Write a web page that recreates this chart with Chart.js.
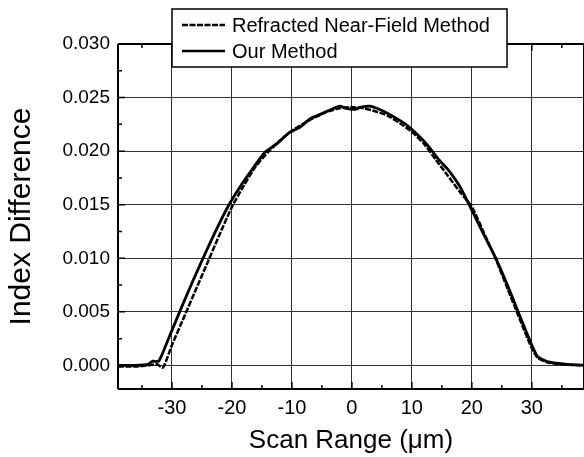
<!DOCTYPE html>
<html>
<head>
<meta charset="utf-8">
<script src="https://cdn.jsdelivr.net/npm/chart.js@4"></script>
<style>
html,body{margin:0;padding:0;background:#fff;overflow:hidden}
#wrap{width:584px;height:457px;position:relative}
</style>
</head>
<body>
<div id="wrap"><canvas id="c" width="584" height="457"></canvas></div>
<script>
// ---- data ----
const rnfX = [-39,-36,-34,-32.5,-31.5,-30,-28,-26,-24,-22,-20,-18,-16,-14,-12,-10,-8,-6,-4,-2,0,2,4,6,8,10,12,14,16,18,20,22,24,26,28,30,31,32.5,35,39];
const rnfY = [-0.0001,-0.0001,0.0000,0.0001,-0.0002,0.0019,0.0045,0.0071,0.0097,0.0123,0.0148,0.0168,0.0186,0.0199,0.0210,0.0219,0.0226,0.0232,0.0237,0.0240,0.0241,0.0240,0.0237,0.0233,0.0226,0.0218,0.0207,0.0192,0.0177,0.0162,0.0148,0.0124,0.0099,0.0071,0.0043,0.0016,0.0007,0.0003,0.0001,0.0000];
const ourX = [-39,-36,-34,-33.2,-32.2,-30.5,-28.5,-26.5,-24.5,-22.5,-20.5,-18.5,-16.5,-14.5,-12.5,-10.5,-8.5,-7,-5,-3,-2,-1,0.5,1.5,3,5,7,9,11,12.7,14.5,16,18,20,22,24,26,28,30,31,33,36,39];
const ourY = [0.0000,0.0000,0.0001,0.0004,0.0004,0.0026,0.0053,0.0079,0.0104,0.0128,0.0150,0.0168,0.0184,0.0199,0.0207,0.0217,0.0223,0.0230,0.0235,0.0240,0.0242,0.0240,0.0239,0.0241,0.0242,0.0238,0.0232,0.0225,0.0215,0.0205,0.0192,0.0183,0.0167,0.0145,0.0122,0.0100,0.0074,0.0046,0.0019,0.0008,0.0003,0.0001,0.0000];
const seriesLabels = ["Refracted Near-Field Method", "Our Method"];
const xTicks = [-30,-20,-10,0,10,20,30];
const xMinorTicks = [-35,-25,-15,-5,5,15,25,35];
const yTicks = [0,0.005,0.010,0.015,0.020,0.025,0.030];
const yMinorTicks = [0.0025,0.0075,0.0125,0.0175,0.0225,0.0275];
const xTitle = "Scan Range (\u03bcm)";
const yTitle = "Index Difference";

const FONT = "'Liberation Sans', Arial, sans-serif";
const toPts = (xs, ys) => xs.map((x, i) => ({x, y: ys[i]}));

const framePlugin = {
  id: 'frame',
  afterDatasetsDraw(chart) {
    const {ctx, chartArea: a, scales: {x, y}} = chart;
    ctx.save();
    ctx.strokeStyle = '#000';
    ctx.lineWidth = 2;
    ctx.beginPath();
    ctx.moveTo(a.left, a.top); ctx.lineTo(a.left, a.bottom);
    ctx.moveTo(a.left, a.bottom); ctx.lineTo(a.right, a.bottom);
    ctx.moveTo(a.left, a.top); ctx.lineTo(a.right, a.top);
    ctx.moveTo(a.right, a.top); ctx.lineTo(a.right, a.bottom);
    ctx.stroke();
    ctx.lineWidth = 1.5;
    ctx.beginPath();
    xMinorTicks.forEach(v => {
      const px = x.getPixelForValue(v);
      ctx.moveTo(px, a.bottom); ctx.lineTo(px, a.bottom - 4);
      ctx.moveTo(px, a.top); ctx.lineTo(px, a.top + 4);
    });
    xTicks.forEach(v => {
      const px = x.getPixelForValue(v);
      ctx.moveTo(px, a.bottom); ctx.lineTo(px, a.bottom - 7);
      ctx.moveTo(px, a.top); ctx.lineTo(px, a.top + 7);
    });
    yMinorTicks.forEach(v => {
      const py = y.getPixelForValue(v);
      ctx.moveTo(a.left, py); ctx.lineTo(a.left + 4, py);
    });
    yTicks.forEach(v => {
      const py = y.getPixelForValue(v);
      ctx.moveTo(a.left, py); ctx.lineTo(a.left + 7, py);
    });
    ctx.stroke();
    ctx.restore();
  },
  afterDraw(chart) {
    const {ctx} = chart;
    const bx = 172, by = 9, bw = 335, bh = 58;
    ctx.save();
    ctx.fillStyle = '#fff';
    ctx.fillRect(bx, by, bw, bh);
    ctx.strokeStyle = '#000';
    ctx.lineWidth = 1.5;
    ctx.strokeRect(bx, by, bw, bh);
    ctx.font = "20px " + FONT;
    ctx.fillStyle = '#000';
    ctx.textBaseline = 'middle';
    chart.data.datasets.forEach((ds, i) => {
      const cy = by + 16 + i * 26;
      ctx.beginPath();
      ctx.lineWidth = 2.5;
      ctx.setLineDash(ds.borderDash || []);
      ctx.moveTo(bx + 10, cy); ctx.lineTo(bx + 53, cy);
      ctx.stroke();
      ctx.setLineDash([]);
      ctx.fillText(ds.label, bx + 60, cy + 1);
    });
    ctx.restore();
  }
};

new Chart(document.getElementById('c'), {
  type: 'scatter',
  data: {
    datasets: [
      {label: seriesLabels[0], data: toPts(rnfX, rnfY), showLine: true, borderColor: '#000', borderWidth: 2.5, borderDash: [6, 1.5], pointRadius: 0, tension: 0.2, fill: false},
      {label: seriesLabels[1], data: toPts(ourX, ourY), showLine: true, borderColor: '#000', borderWidth: 2.8, pointRadius: 0, tension: 0.2, fill: false}
    ]
  },
  options: {
    responsive: false,
    animation: false,
    devicePixelRatio: 1,
    layout: {padding: {top: 44, right: 0, left: 0, bottom: 0}},
    plugins: {legend: {display: false}, tooltip: {enabled: false}},
    scales: {
      x: {
        type: 'linear', min: -39, max: 38.7,
        afterBuildTicks: s => { s.ticks = xTicks.map(v => ({value: v})); },
        afterFit: s => { s.height = 68; },
        grid: {color: '#333', lineWidth: 1, drawTicks: false},
        border: {display: false},
        ticks: {color: '#000', font: {family: FONT, size: 20}, padding: 7, maxRotation: 0, callback: v => String(v)},
        title: {display: true, text: xTitle, color: '#000', font: {family: FONT, size: 26}, padding: {top: 0, bottom: 1}}
      },
      y: {
        type: 'linear', min: -0.0022, max: 0.030,
        afterBuildTicks: s => { s.ticks = yTicks.map(v => ({value: v})); },
        afterFit: s => { s.width = 118; },
        grid: {color: '#333', lineWidth: 1, drawTicks: false},
        border: {display: false},
        ticks: {color: '#000', font: {family: FONT, size: 19}, padding: 8, callback: v => v.toFixed(3)},
        title: {display: true, text: yTitle, color: '#000', font: {family: FONT, size: 30}, padding: {top: 4, bottom: 0}}
      }
    }
  },
  plugins: [framePlugin]
});
</script>
</body>
</html>
